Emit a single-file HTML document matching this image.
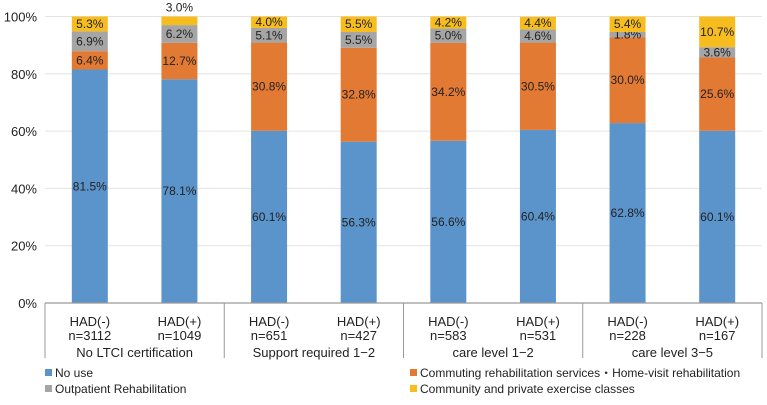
<!DOCTYPE html>
<html><head><meta charset="utf-8"><style>
body{margin:0;background:#fff;}
svg text{font-family:"Liberation Sans",sans-serif;}
</style></head><body>
<svg id="chart" width="767" height="400"></svg>
<script>
const categories=["HAD(-)","HAD(+)","HAD(-)","HAD(+)","HAD(-)","HAD(+)","HAD(-)","HAD(+)"];
const sampleSizes=["n=3112","n=1049","n=651","n=427","n=583","n=531","n=228","n=167"];
const groups=["No LTCI certification","Support required 1−2","care level 1−2","care level 3−5"];
const noUse=[81.5,78.1,60.1,56.3,56.6,60.4,62.8,60.1];
const commuting=[6.4,12.7,30.8,32.8,34.2,30.5,30.0,25.6];
const outpatient=[6.9,6.2,5.1,5.5,5.0,4.6,1.8,3.6];
const community=[5.3,3.0,4.0,5.5,4.2,4.4,5.4,10.7];
const yTicks=[0,20,40,60,80,100];
const seriesNames=["No use","Commuting rehabilitation services・Home-visit rehabilitation","Outpatient Rehabilitation","Community and private exercise classes"];
const seriesColors=["#5b93cb","#e37a34","#a5a5a5","#f7bd1f"];
const seriesData=[noUse,commuting,outpatient,community];

const NS="http://www.w3.org/2000/svg";
const svg=document.getElementById('chart');
const x0=45,x1=762,yTop=16.5,yBot=303;
const step=(x1-x0)/categories.length, bw=36;
const y=v=>yBot-(v/100)*(yBot-yTop);
const xc=i=>x0+step*(i+0.5);
function mk(tag,attrs,parent){const e=document.createElementNS(NS,tag);for(const k in attrs)e.setAttribute(k,attrs[k]);(parent||svg).appendChild(e);return e;}

yTicks.forEach(t=>{
  if(t>0){const g=mk('line',{x1:x0,x2:x1,y1:y(t),y2:y(t),stroke:'#e3e3e3','stroke-width':1});
  
  }
  const tx=mk('text',{x:37,y:y(t)+5,'text-anchor':'end','font-size':13,fill:'#222'});
  tx.textContent=t+'%';
  
  
});

categories.forEach((c,i)=>{
  let cum=0;
  seriesData.forEach((s,k)=>{
    const v=s[i];
    const top=Math.min(cum+v,100);
    const r=mk('rect',{x:xc(i)-bw/2,y:y(top),width:bw,height:y(cum)-y(top),fill:seriesColors[k]});
    
    
    let ly=(y(cum)+y(top))/2+4;
    if(k===3 && v<4) ly=y(100)-5;
    const t=mk('text',{x:xc(i),y:ly,'text-anchor':'middle','font-size':12,fill:'#222'});
    t.textContent=v.toFixed(1)+'%';
    
    
    cum=top;
  });
  const l1=mk('text',{x:xc(i),y:326,'text-anchor':'middle','font-size':13,fill:'#222'});
  l1.textContent=c;
  
  
  const l2=mk('text',{x:xc(i),y:340,'text-anchor':'middle','font-size':13,fill:'#222'});
  l2.textContent=sampleSizes[i];
  
  
});

const ax=mk('line',{x1:x0,x2:x1,y1:yBot,y2:yBot,stroke:'#999','stroke-width':1.2});


for(let g=0;g<=groups.length;g++){
  const gx=x0+step*2*g;
  const d=mk('line',{x1:gx,x2:gx,y1:yBot,y2:358,stroke:'#999','stroke-width':1});
  
  
  if(g<groups.length){
    const t=mk('text',{x:gx+step,y:357,'text-anchor':'middle','font-size':13,fill:'#222'});
    t.textContent=groups[g];
    
    
  }
}

const legPos=[[45,373],[410,373],[45,389],[410,389]];
const legOrder=[0,1,2,3];
legOrder.forEach((k,j)=>{
  const [lx,ly]=legPos[j];
  const s=mk('rect',{x:lx,y:ly-4,width:7,height:7,fill:seriesColors[k]});
  
  
  const t=mk('text',{x:lx+10,y:ly+4,'font-size':12,fill:'#222'});
  t.textContent=seriesNames[k];
  
  
});
</script>
</body></html>
